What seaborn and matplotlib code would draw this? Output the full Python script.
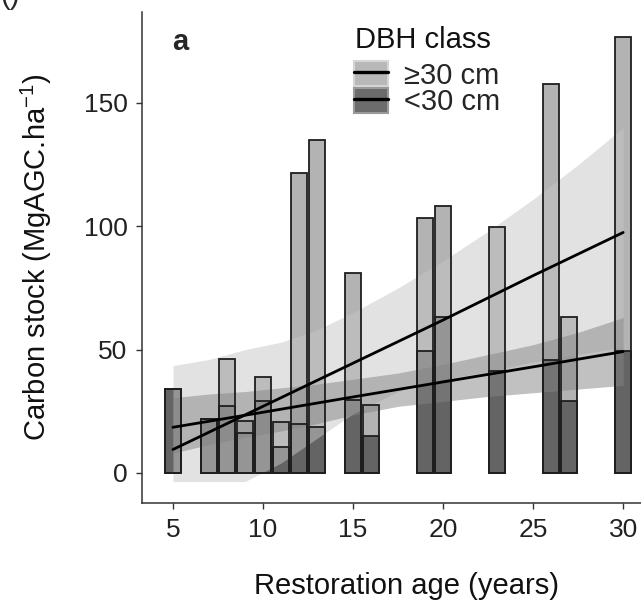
import numpy as np
import pandas as pd
import matplotlib
matplotlib.use("Agg")
import matplotlib.pyplot as plt
import seaborn as sns
from matplotlib.patches import Patch
from matplotlib.lines import Line2D
from matplotlib.legend_handler import HandlerTuple

# ---------------- data ----------------
ages = [5, 7, 8, 9, 10, 11, 12, 13, 15, 16, 19, 20, 23, 26, 27, 30]
carbon_small = [34, 22, 27, 16, 29, 10.7, 19.7, 18.7, 29.6, 14.8, 49.5, 63.4, 41.3, 45.7, 29.2, 49.6]   # <30 cm
carbon_large = [0, 0, 19, 5, 10, 9.9, 101.9, 116.3, 51.6, 12.8, 53.8, 45.0, 58.4, 111.9, 34.0, 127.0]  # >=30 cm

fit_age = [5, 10, 15, 20, 25, 30]
fit_large = [9.5, 27.0, 44.5, 62.0, 80.0, 97.5]
fit_small = [18.5, 24.6, 30.8, 36.9, 43.0, 49.2]

ci_age = [5, 7, 9, 11, 13, 15, 17.5, 20, 22.5, 25, 27.5, 30]
large_lo = [-3.5, -3.5, -3.5, 4, 14, 24, 33, 38, 41, 45, 48, 51]
large_hi = [43.5, 46, 50, 53, 58, 65, 75, 86, 98, 111, 125, 140]
small_lo = [8, 11.5, 14.5, 17, 20, 23.5, 27, 29, 31, 32.5, 34, 35.5]
small_hi = [30.5, 32, 33, 34.5, 36, 38, 40.5, 44, 48, 52, 57, 63]

classes = ["\u226530 cm", "<30 cm"]
xticks = [5, 10, 15, 20, 25, 30]
yticks = [0, 50, 100, 150]

# ---------------- styling ----------------
sns.set_style("white")
plt.rcParams["font.family"] = ["Liberation Sans", "DejaVu Sans"]
plt.rcParams["mathtext.default"] = "regular"

LIGHT = "#b3b3b3"
DARK = "#646464"
EDGE = "#1e1e1e"

W, H, DPI = 641, 603, 100
fig = plt.figure(figsize=(W / DPI, H / DPI), dpi=DPI)
ax = fig.add_axes([142 / W, 1 - 503 / H, (670 - 142) / W, (503 - 12) / H])

df = pd.DataFrame({"age": ages, "small": carbon_small, "large": carbon_large})
df["total"] = df["small"] + df["large"]

# filled bars (stacked: total in light, <30 cm part in dark on top)
for col, c in [("total", LIGHT), ("small", DARK)]:
    sns.barplot(data=df, x="age", y=col, native_scale=True, width=0.9,
                color=c, saturation=1, linewidth=0, errorbar=None, ax=ax)
for p in ax.patches:
    p.set_zorder(2)
n_fill = len(ax.patches)

# confidence ribbons (semi-transparent, over the bar fills)
ax.fill_between(ci_age, large_lo, large_hi, color="#c6c6c6", alpha=0.5,
                linewidth=0, zorder=3)
ax.fill_between(ci_age, small_lo, small_hi, color="#858585", alpha=0.5,
                linewidth=0, zorder=3)

# bar outlines on top
for col in ["total", "small"]:
    sns.barplot(data=df, x="age", y=col, native_scale=True, width=0.9,
                color=EDGE, fill=False, linewidth=1.3, errorbar=None, ax=ax)
for p in ax.patches[n_fill:]:
    p.set_zorder(3.5)
    p.set_edgecolor(EDGE)
    p.set_facecolor("none")

fits = pd.DataFrame({"age": fit_age * 2,
                     "carbon": fit_large + fit_small,
                     "cls": [classes[0]] * len(fit_age) + [classes[1]] * len(fit_age)})
sns.lineplot(data=fits, x="age", y="carbon", units="cls", estimator=None,
             color="black", linewidth=2.0, ax=ax, legend=False)
for ln in ax.lines:
    ln.set_zorder(4)

# axes
ax.set_xlim(3.28, 32.6)
ax.set_ylim(-12.2, 186.9)
ax.set_xticks(xticks)
ax.set_yticks(yticks)
ax.tick_params(axis="both", which="major", labelsize=19, length=4.5, width=1.0,
               color="#333333", pad=6, labelcolor="#222222", direction="out",
               bottom=True, left=True)
for s in ["top", "right"]:
    ax.spines[s].set_visible(False)
for s in ["left", "bottom"]:
    ax.spines[s].set_color("#333333")
    ax.spines[s].set_linewidth(1.1)

ax.set_xlabel("Restoration age (years)", fontsize=21, color="#111111")
ax.set_ylabel("Carbon stock (MgAGC.ha$^{-1}$)", fontsize=21, color="#111111")
ax.xaxis.label.set_verticalalignment("bottom")
ax.xaxis.set_label_coords(0.5, -(600 - 503) / (503 - 12))
ax.yaxis.set_label_coords(-(142 - 54) / (670 - 142), 0.5)

# panel label and clipped tag at the top edge
fig.text(172 / W, 1 - 50 / H, "a", fontsize=21, fontweight="bold", va="baseline", ha="left")
fig.text(0 / W, 1 - 4 / H, "()", fontsize=21, va="baseline", ha="left")

# legend title + entries
fig.text(355 / W, 1 - 48 / H, "DBH class", fontsize=21, va="baseline", ha="left",
         color="#111111")
handles = [
    (Patch(facecolor="#b8b8b8", edgecolor="#d6d6d6", linewidth=1.5),
     Line2D([0], [0], color="black", linewidth=2.4)),
    (Patch(facecolor="#6c6c6c", edgecolor="#9a9a9a", linewidth=1.5),
     Line2D([0], [0], color="black", linewidth=2.4)),
]
leg = fig.legend(handles, classes, loc="upper left",
                 bbox_to_anchor=(354 / W, 1 - 61 / H), frameon=False,
                 fontsize=21, handlelength=1.15,
                 handleheight=0.95, handletextpad=0.55, labelspacing=-0.06,
                 borderpad=0, borderaxespad=0,
                 handler_map={tuple: HandlerTuple(ndivide=1, pad=0)})

fig.savefig("out.png", dpi=DPI)
